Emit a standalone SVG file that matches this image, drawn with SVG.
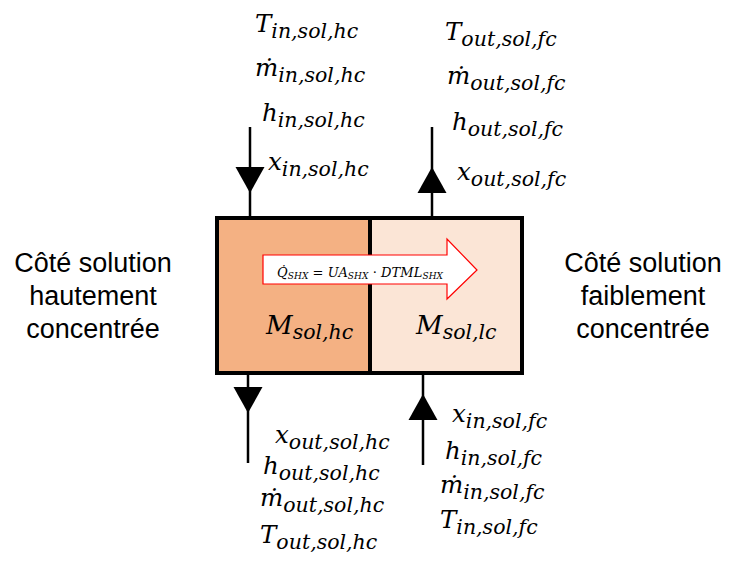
<svg xmlns="http://www.w3.org/2000/svg" width="729" height="566" viewBox="0 0 729 566">
<style>
.side{font-family:"Liberation Sans",Arial,sans-serif;font-size:27px;fill:#000;text-anchor:middle}
.v{font-family:"DejaVu Serif",serif;font-style:italic;font-size:24.5px;fill:#000}
.v .s{font-size:20.5px}
.big{font-family:"DejaVu Serif",serif;font-style:italic;font-size:26px;fill:#000}
.big .s{font-size:20.5px}
.eq{font-family:"DejaVu Serif",serif;font-style:italic;font-size:13px;fill:#000}
.eq .s{font-size:9px}
.eq .u{font-style:normal}
.ln{stroke:#000;stroke-width:2.5;fill:none}
.hd{fill:#000;stroke:none}
</style>
<defs>
<polygon id="tri" points="-14.5,-13 14.5,-13 0,13"/>
</defs>
<rect width="729" height="566" fill="#fff"/>
<g id="box-hc">
<rect x="217" y="218" width="153" height="155" fill="#F4B183"/>
<text class="big" x="266" y="334">M<tspan class="s" dy="5">sol,hc</tspan></text>
</g>
<g id="box-lc">
<rect x="370" y="218" width="152" height="155" fill="#FBE5D6"/>
<text class="big" x="416" y="334">M<tspan class="s" dy="5">sol,lc</tspan></text>
</g>
<g id="frame">
<rect x="217" y="218" width="305" height="155" fill="none" stroke="#000" stroke-width="4"/>
<line x1="370" y1="218" x2="370" y2="373" stroke="#000" stroke-width="4"/>
</g>
<g id="heat-arrow">
<polygon points="263,255 447,255 447,239 477,270 447,299 447,284 263,284" fill="#fff" stroke="#FF0000" stroke-width="1.2"/>
<text class="eq" x="277" y="277" textLength="166">Q&#x307;<tspan class="s" dy="2">SHX</tspan><tspan class="u" dy="-2"> = </tspan>UA<tspan class="s" dy="2">SHX</tspan><tspan class="u" dy="-2"> · </tspan>DTML<tspan class="s" dy="2">SHX</tspan></text>
</g>
<g id="side-left">
<text class="side" x="93" y="272">Côté solution</text>
<text class="side" x="93" y="305">hautement</text>
<text class="side" x="93" y="338">concentrée</text>
</g>
<g id="side-right">
<text class="side" x="643" y="272">Côté solution</text>
<text class="side" x="643" y="305">faiblement</text>
<text class="side" x="643" y="338">concentrée</text>
</g>
<g id="labels-in-hc">
<text class="v" x="255" y="32">T<tspan class="s" dy="6">in,sol,hc</tspan></text>
<text class="v" x="255" y="76">ṁ<tspan class="s" dy="6">in,sol,hc</tspan></text>
<text class="v" x="262" y="121">h<tspan class="s" dy="6">in,sol,hc</tspan></text>
<text class="v" x="268" y="170">x<tspan class="s" dy="6">in,sol,hc</tspan></text>
</g>
<g id="labels-out-fc">
<text class="v" x="445" y="40">T<tspan class="s" dy="6">out,sol,fc</tspan></text>
<text class="v" x="447" y="84">ṁ<tspan class="s" dy="6">out,sol,fc</tspan></text>
<text class="v" x="452" y="130">h<tspan class="s" dy="6">out,sol,fc</tspan></text>
<text class="v" x="457" y="180">x<tspan class="s" dy="6">out,sol,fc</tspan></text>
</g>
<g id="labels-out-hc">
<text class="v" x="275" y="443">x<tspan class="s" dy="6">out,sol,hc</tspan></text>
<text class="v" x="263" y="474">h<tspan class="s" dy="6">out,sol,hc</tspan></text>
<text class="v" x="260" y="506">ṁ<tspan class="s" dy="6">out,sol,hc</tspan></text>
<text class="v" x="260" y="543">T<tspan class="s" dy="6">out,sol,hc</tspan></text>
</g>
<g id="labels-in-fc">
<text class="v" x="452" y="422">x<tspan class="s" dy="6">in,sol,fc</tspan></text>
<text class="v" x="445" y="459">h<tspan class="s" dy="6">in,sol,fc</tspan></text>
<text class="v" x="440" y="493">ṁ<tspan class="s" dy="6">in,sol,fc</tspan></text>
<text class="v" x="440" y="528">T<tspan class="s" dy="6">in,sol,fc</tspan></text>
</g>
<g id="connectors">
<line class="ln" x1="250" y1="127" x2="250" y2="216"/>
<use href="#tri" class="hd" transform="translate(250,180)"/>
<line class="ln" x1="432" y1="127" x2="432" y2="216"/>
<use href="#tri" class="hd" transform="translate(432,180) rotate(180)"/>
<line class="ln" x1="248" y1="375" x2="248" y2="463"/>
<use href="#tri" class="hd" transform="translate(248,400)"/>
<line class="ln" x1="423" y1="375" x2="423" y2="465"/>
<use href="#tri" class="hd" transform="translate(423,407) rotate(180)"/>
</g>
</svg>
